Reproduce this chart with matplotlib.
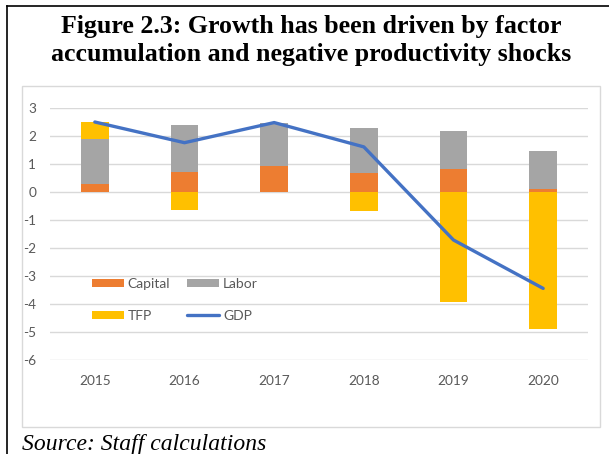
import numpy as np
import matplotlib
matplotlib.use("Agg")
import matplotlib.pyplot as plt
from matplotlib.patches import Rectangle
from matplotlib.lines import Line2D

years = ["2015", "2016", "2017", "2018", "2019", "2020"]
capital = [0.29, 0.72, 0.93, 0.67, 0.82, 0.13]
labor = [1.62, 1.68, 1.54, 1.62, 1.36, 1.34]
tfp = [0.60, -0.63, 0.00, -0.69, -3.93, -4.90]
gdp = [2.51, 1.77, 2.49, 1.62, -1.71, -3.44]
yticks = [3, 2, 1, 0, -1, -2, -3, -4, -5, -6]

title_lines = ["Figure 2.3: Growth has been driven by factor",
               "accumulation and negative productivity shocks"]
source_text = "Source: Staff calculations"

W, H = 609, 454
fig = plt.figure(figsize=(W / 100, H / 100), dpi=100)

def fx(px):
    return px / W

def fy(py):
    return 1 - py / H

# page borders
fig.add_artist(Line2D([fx(7), fx(7)], [fy(6), fy(454)], color="black", lw=1.2, transform=fig.transFigure))
fig.add_artist(Line2D([fx(7), fx(609)], [fy(6), fy(6)], color="black", lw=1.2, transform=fig.transFigure))

# chart frame
fig.add_artist(Rectangle((fx(22), fy(427)), fx(600) - fx(22), fy(86) - fy(427),
                         transform=fig.transFigure, fill=False, edgecolor="#d9d9d9", lw=1))

# title
fig.text(fx(311), fy(33), title_lines[0], ha="center", va="baseline",
         family="Liberation Serif", fontweight="bold", fontsize=18.6, color="black")
fig.text(fx(311), fy(61), title_lines[1], ha="center", va="baseline",
         family="Liberation Serif", fontweight="bold", fontsize=18.6, color="black")

# source
fig.text(fx(22), fy(450), source_text, ha="left", va="baseline",
         family="Liberation Serif", style="italic", fontsize=17, color="black")

ax = fig.add_axes([fx(50), fy(360), fx(588) - fx(50), fy(108.3) - fy(360)])

x = np.arange(len(years))
width = 0.31
cap = np.array(capital)
lab = np.array(labor)
tf = np.array(tfp)

pos_base = np.zeros(len(years))
neg_base = np.zeros(len(years))
series = [(cap, "#ED7D31", "Capital"), (lab, "#A5A5A5", "Labor"), (tf, "#FFC000", "TFP")]
handles = {}
for vals, col, lab_name in series:
    bottoms = np.where(vals >= 0, pos_base, neg_base)
    b = ax.bar(x, vals, width=width, bottom=bottoms, color=col, label=lab_name, zorder=2)
    handles[lab_name] = b
    pos_base = pos_base + np.where(vals >= 0, vals, 0)
    neg_base = neg_base + np.where(vals < 0, vals, 0)

ln, = ax.plot(x, gdp, color="#4472C4", lw=2.4, solid_capstyle="round", zorder=3, label="GDP")

ax.set_xlim(-0.5, len(years) - 0.5)
ax.set_ylim(-6, 3)
ax.set_yticks(yticks)
ax.set_yticklabels([str(v) for v in yticks])
ax.set_xticks(x)
ax.set_xticklabels(years)
ax.yaxis.grid(True, color="#d9d9d9", lw=1, zorder=0)
ax.set_axisbelow(True)
for s in ax.spines.values():
    s.set_visible(False)
ax.tick_params(axis="both", length=0, labelsize=9.8, labelcolor="#595959")
ax.tick_params(axis="x", pad=11)
ax.tick_params(axis="y", pad=10)
for t in ax.get_xticklabels() + ax.get_yticklabels():
    t.set_family("Lato")

leg = ax.legend([handles["Capital"], handles["TFP"], handles["Labor"], ln],
                ["Capital", "TFP", "Labor", "GDP"],
                ncol=2, loc="upper left",
                bbox_to_anchor=(fx(82), fy(268)), bbox_transform=fig.transFigure,
                frameon=False, prop={"family": "Lato", "size": 10},
                labelcolor="#595959", handlelength=2.3, handleheight=0.55,
                handletextpad=0.3, columnspacing=1.2, labelspacing=1.45,
                borderpad=0.2)

fig.savefig("out.png", dpi=100)
